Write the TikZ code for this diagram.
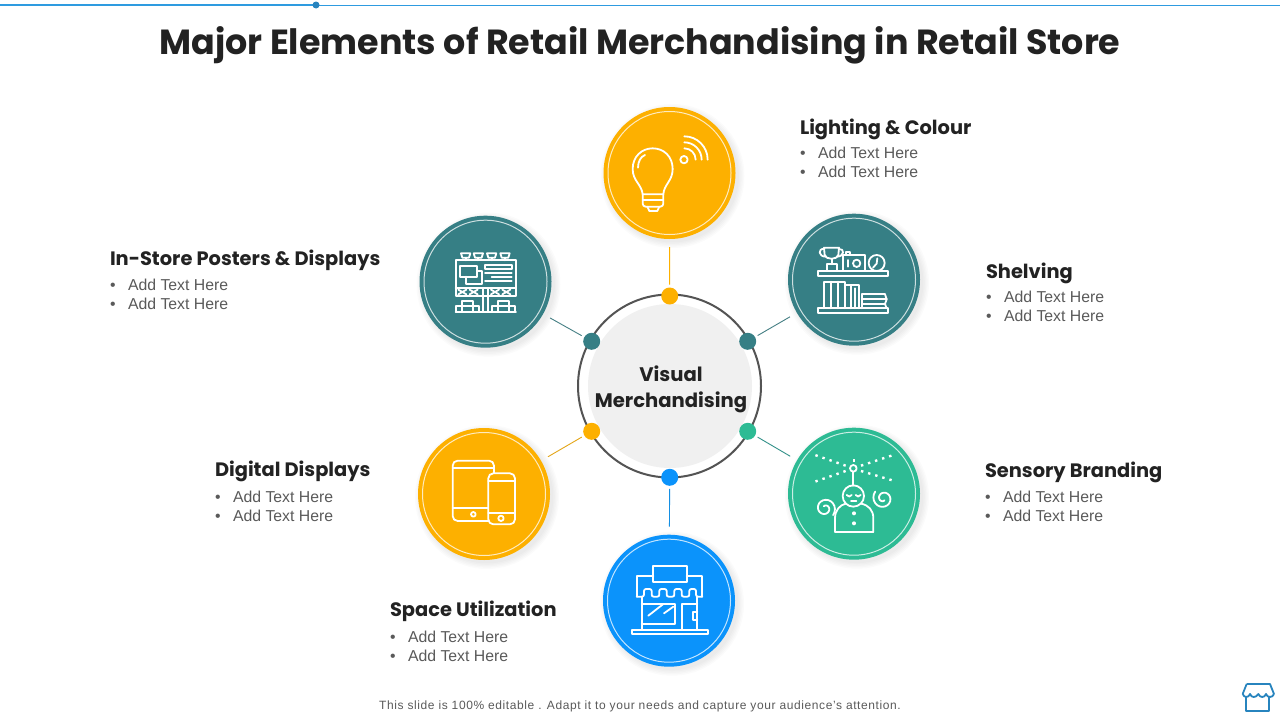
\documentclass[tikz,border=0pt]{standalone}
\usepackage{fontspec}
\setmainfont{Liberation Sans}
\newfontfamily\headfont{Poppins}
\newfontfamily\footfont[LetterSpace=5]{Liberation Sans}
\usetikzlibrary{positioning}
\definecolor{myamber}{HTML}{FDB000}
\definecolor{myteal}{HTML}{367F85}
\definecolor{mygreen}{HTML}{2DBB94}
\definecolor{myblue}{HTML}{0B93FB}
\definecolor{myline}{HTML}{2E9BE0}
\definecolor{myink}{HTML}{222222}
\definecolor{mybody}{HTML}{5A5A5A}
\tikzset{
    heading/.style={anchor=west, inner sep=0pt, outer sep=0pt, text=myink, font=\headfont\bfseries\fontsize{19.4}{24}\selectfont},
    bullets/.style={anchor=north west, inner sep=0pt, outer sep=0pt, align=left, text=mybody, font=\fontsize{15.8}{19}\selectfont},
    badge/.style={circle, fill=#1, inner sep=0pt, outer sep=0pt, minimum size=132pt},
    dot/.style={circle, fill=#1, inner sep=0pt, outer sep=0pt, minimum size=17pt},
    spoke/.style={draw=#1, line width=0.9pt, shorten <=8pt, shorten >=3pt},
    iconline/.style={color=white, line width=1.8pt, line join=round, line cap=round},
    dotted ray/.style={line width=2.4pt, line cap=butt, dash pattern=on 2.4pt off 5pt},
}
\newcommand{\twolines}{\textbullet\hspace{12.5pt}Add Text Here\\\textbullet\hspace{12.5pt}Add Text Here}
\begin{document}
\begin{tikzpicture}[x=1pt, y=-1pt]
    \useasboundingbox (0,0) rectangle (1280,720);
    \fill[white] (0,0) rectangle (1280,720);

    \coordinate (railstart) at (0,5);
    \coordinate (railmid) at (316,5);
    \coordinate (railend) at (1280,5);
    \draw[myline, line width=1pt] (railmid) -- (railend);
    \draw[myline, line width=2pt] (railstart) -- (railmid);
    \node (raildot) [dot=myline!85!black, minimum size=7pt] at (railmid) {};

    \node (title) [text=myink, font=\headfont\bfseries\fontsize{34.9}{40}\selectfont] at (640,45) {Major Elements of Retail Merchandising in Retail Store};

    \node (ring) [circle, draw=black!67, line width=2pt, inner sep=0pt, minimum size=183pt] at (669.5,386) {};
    \node (hub) [circle, fill=black!6, inner sep=0pt, minimum size=164pt] at (670,386) {};
    \node (hubtext) [align=center, text=myink, font=\headfont\bfseries\fontsize{19.6}{26}\selectfont] at (671,389) {Visual\\Merchandising};
    \node (dotlight) [dot=myamber] at (669.7,296) {};
    \node (dotposter) [dot=myteal] at (591.7,341.3) {};
    \node (dotshelf) [dot=myteal] at (747.7,341.3) {};
    \node (dotdigital) [dot=myamber] at (591.7,431.3) {};
    \node (dotsensory) [dot=mygreen] at (747.7,431.3) {};
    \node (dotspace) [dot=myblue] at (669.7,477.3) {};

    \foreach \nm/\px/\py/\col in {light/669.5/173/myamber, poster/485.5/281.7/myteal, shelf/854/279.7/myteal, digital/484/494/myamber, sensory/854/493.7/mygreen, space/669/600.7/myblue} {
        \foreach \k in {1,...,5}
            \fill[black, opacity=0.014] (\px+3,\py+3) circle ({65+\k*1.4});
        \node (\nm) [badge=\col] at (\px,\py) {};
        \draw[white!75!\col, line width=1pt] (\px,\py) circle (61.5);
    }

    \draw[spoke=myamber] (light) -- (dotlight);
    \draw[spoke=myteal!80!gray] (poster) -- (dotposter);
    \draw[spoke=myteal!80!gray] (shelf) -- (dotshelf);
    \draw[spoke=myamber!80!gray] (digital) -- (dotdigital);
    \draw[spoke=myteal!70!mygreen] (sensory) -- (dotsensory);
    \draw[spoke=myblue!80!myteal] (space) -- (dotspace);

    \node (lighthead) [heading] at (800,129) {Lighting \& Colour};
    \node (lighttext) [bullets] at (800,147) {\twolines};
    \node (posterhead) [heading] at (110,260) {In-Store Posters \& Displays};
    \node (postertext) [bullets] at (110,279) {\twolines};
    \node (shelfhead) [heading] at (986,273) {Shelving};
    \node (shelftext) [bullets] at (986,291) {\twolines};
    \node (sensoryhead) [heading] at (985,472) {Sensory Branding};
    \node (sensorytext) [bullets] at (985,491) {\twolines};
    \node (digitalhead) [heading] at (215,471) {Digital Displays};
    \node (digitaltext) [bullets] at (215,491) {\twolines};
    \node (spacehead) [heading] at (390,611) {Space Utilization};
    \node (spacetext) [bullets] at (390,631) {\twolines};

    \node (note) [text=mybody, font=\footfont\fontsize{12}{14}\selectfont] at (640,706) {This slide is 100\% editable . Adapt it to your needs and capture your audience’s attention.};

    % lighting
    \begin{scope}[shift={(590,95)}, x=0.3333pt, y=-0.3333pt, iconline]
        \draw (158,298) .. controls (155,268) and (128,258) .. (128,222) .. controls (128,185) and (155,160) .. (188,160) .. controls (222,160) and (248,185) .. (248,222) .. controls (248,258) and (222,268) .. (220,298) -- cycle;
        \draw[rounded corners=3pt] (158,298) -- (158,335) -- (220,335) -- (220,298);
        \draw (158,316) -- (220,316);
        \draw (172,335) -- (178,348) -- (202,348) -- (208,335);
        \draw (144,218) .. controls (144,200) and (152,185) .. (165,180);
        \draw (282,194) circle (11);
        \draw (283,160) arc[start angle=-90, end angle=0, radius=34];
        \draw (283,142) arc[start angle=-90, end angle=0, radius=52];
        \draw (283,124) arc[start angle=-90, end angle=0, radius=70];
    \end{scope}

    % posters
    \begin{scope}[shift={(405,205)}, x=0.3333pt, y=-0.3333pt, iconline]
        \foreach \lx in {182,220,260,300} {
            \draw (\lx-10,158) -- (\lx-14,145) -- (\lx+14,145) -- (\lx+10,158) -- cycle;
            \draw (\lx,158) -- (\lx,166);
        }
        \draw (152,166) rectangle (333,272);
        \draw (152,250) -- (333,250);
        \draw (165,182) rectangle (217,215);
        \draw (183,215) -- (183,236) -- (232,236) -- (232,198) -- (217,198);
        \draw (240,180) rectangle (320,191);
        \draw (240,205) -- (320,205);
        \draw (260,217) -- (320,217);
        \draw (240,228) -- (320,228);
        \draw (235,250) rectangle (250,320);
        \foreach \cx in {172,206,270,304}
            \draw (\cx-12,254) -- (\cx+12,268) (\cx-12,268) -- (\cx+12,254);
        \draw (152,320) -- (333,320);
        \draw (154,320) -- (154,302) -- (172,302) -- (172,288) -- (205,288) -- (205,302) -- (222,302) -- (222,320);
        \draw (172,302) -- (172,320) (205,302) -- (205,320) (172,302) -- (205,302);
        \draw (262,320) -- (262,302) -- (278,302) -- (278,288) -- (312,288) -- (312,302) -- (331,302) -- (331,320);
        \draw (278,302) -- (278,320) (312,302) -- (312,320) (278,302) -- (312,302);
    \end{scope}

    % shelves
    \begin{scope}[shift={(775,205)}, x=0.3333pt, y=-0.3333pt, iconline]
        \draw (130,198) rectangle (340,212);
        \draw (130,310) rectangle (340,324);
        \draw (147,128) -- (192,128) -- (190,150) .. controls (187,165) and (152,165) .. (149,150) -- cycle;
        \draw (147,132) .. controls (128,130) and (130,155) .. (152,155);
        \draw (192,132) .. controls (210,130) and (208,155) .. (186,155);
        \draw (170,163) -- (170,178);
        \draw (155,198) -- (155,178) -- (185,178) -- (185,198);
        \draw (205,198) -- (205,150) -- (270,150) -- (270,198);
        \draw (212,150) -- (212,142) -- (225,142) -- (225,150);
        \draw (220,165) -- (220,185);
        \draw (245,175) circle (11);
        \draw (305,174) circle (24);
        \draw (307,160) -- (305,176) -- (294,188);
        \draw (146,310) -- (146,230) -- (210,230) -- (210,310);
        \draw (168,230) -- (168,310) (188,230) -- (188,310);
        \draw (210,240) -- (252,240) -- (252,310);
        \draw (228,240) -- (228,310) (240,250) -- (240,310);
        \draw (262,310) -- (262,268) -- (330,268);
        \draw (262,283) -- (335,283) (262,297) -- (330,297);
        \draw (330,268) -- (335,283) -- (330,297) -- (335,310);
    \end{scope}

    % sensory
    \begin{scope}[shift={(775,415)}, x=0.3333pt, y=-0.3333pt, iconline]
        \draw[dotted ray] (212,152) -- (120,120);
        \draw[dotted ray] (212,168) -- (120,200);
        \draw[dotted ray] (258,152) -- (355,120);
        \draw[dotted ray] (258,168) -- (355,197);
        \draw[dotted ray] (237,140) -- (237,118);
        \draw (235,160) circle (10);
        \draw (235,170) -- (235,212);
        \draw (235,243) circle (32);
        \draw (180,350) -- (180,310) .. controls (180,285) and (195,270) .. (212,266);
        \draw (295,350) -- (295,310) .. controls (295,285) and (280,270) .. (258,266);
        \draw (180,350) -- (295,350);
        \draw (215,240) .. controls (220,246) and (226,246) .. (230,240);
        \draw (242,240) .. controls (246,246) and (252,246) .. (257,240);
        \draw (228,258) -- (244,258);
        \fill (237,295) circle (6);
        \fill (237,325) circle (6);
        \draw[smooth] plot[domain=60:580, samples=30] ({150+(4+\x/21)*cos(\x+180)}, {280+(4+\x/21)*sin(\x+180)});
        \draw[smooth] plot[domain=60:580, samples=30] ({325+(4+\x/21)*cos(\x)}, {250+(4+\x/21)*sin(\x)});
    \end{scope}

    % devices
    \begin{scope}[shift={(405,415)}, x=0.3333pt, y=-0.3333pt, iconline]
        \draw[rounded corners=5pt] (143,137) rectangle (267,318);
        \draw (143,160) -- (267,160);
        \draw (143,280) -- (250,280);
        \draw (205,298) circle (7);
        \draw[rounded corners=5pt, fill=myamber] (250,175) rectangle (330,328);
        \draw (250,197) -- (330,197);
        \draw (250,295) -- (330,295);
        \draw (288,310) circle (8);
    \end{scope}

    % storefront
    \begin{scope}[shift={(590,525)}, x=0.3333pt, y=-0.3333pt, iconline]
        \draw (190,122) rectangle (290,172);
        \draw (190,153) -- (140,153) -- (140,215);
        \draw (290,153) -- (337,153) -- (337,215);
        \draw[rounded corners=2pt] (140,215) -- (162,215) -- (162,192) -- (185,192) -- (185,215) -- (208,215) -- (208,192) -- (230,192) -- (230,215) -- (253,215) -- (253,192) -- (275,192) -- (275,215) -- (298,215) -- (298,192) -- (318,192) -- (318,215) -- (337,215);
        \draw (155,215) -- (155,315);
        \draw (322,215) -- (322,315);
        \draw (155,237) -- (255,237) -- (255,297) -- (155,297);
        \draw (277,315) -- (277,237) -- (322,237);
        \draw (322,262) -- (310,262) -- (310,285) -- (322,285);
        \draw (175,272) -- (220,237);
        \draw (222,265) -- (250,245);
        \draw (125,315) rectangle (353,327);
    \end{scope}

    % corner mark
    \begin{scope}[shift={(1220,670)}, x=0.3333pt, y=-0.3333pt, color=myline!85!black, line width=1.8pt, line join=round]
        \draw (80,42) -- (150,42) -- (162,72);
        \draw (80,42) -- (68,72);
        \draw (68,72) .. controls (72,84) and (86,84) .. (90,72) .. controls (94,84) and (108,84) .. (115,72) .. controls (120,84) and (134,84) .. (138,72) .. controls (142,84) and (158,84) .. (162,72);
        \draw (77,82) -- (77,122) -- (148,122) -- (148,82);
    \end{scope}
\end{tikzpicture}
\end{document}
